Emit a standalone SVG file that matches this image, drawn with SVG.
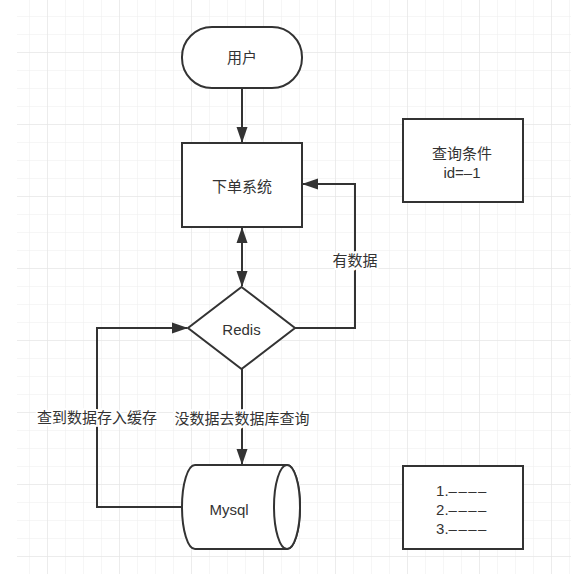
<svg xmlns="http://www.w3.org/2000/svg" width="571" height="574" viewBox="0 0 571 574">
<defs>
<pattern id="minor" x="29" y="16" width="18" height="18" patternUnits="userSpaceOnUse">
<path d="M0,0 H18 M0,0 V18" fill="none" stroke="#ededed" stroke-width="1"/>
</pattern>
<pattern id="major" x="47" y="52" width="72" height="72" patternUnits="userSpaceOnUse">
<path d="M0,0 H72 M0,0 V72" fill="none" stroke="#e2e2e2" stroke-width="1"/>
</pattern>
<marker id="arr" viewBox="0 0 16 12" refX="15" refY="6" markerWidth="16" markerHeight="12" orient="auto-start-reverse" markerUnits="userSpaceOnUse">
<path d="M0,0.5 L16,6 L0,11.5 Z" fill="#333"/>
</marker>
</defs>
<style>
.shape{fill:#fff;stroke:#333;stroke-width:2}
.edge{fill:none;stroke:#333;stroke-width:2}
.t{font-family:"Liberation Sans","Noto Sans CJK SC",sans-serif;font-size:15px;fill:#333;text-anchor:middle;dominant-baseline:central}
.lbl{stroke:#fff;stroke-width:4;paint-order:stroke}
.d{letter-spacing:1.5px}
</style>
<rect width="571" height="574" fill="#fff"/>
<rect x="17" y="0" width="554" height="574" fill="url(#minor)"/>
<rect x="17" y="0" width="554" height="574" fill="url(#major)"/>

<g id="connectors">
<path class="edge" d="M242,88 V142" marker-end="url(#arr)"/>
<path class="edge" d="M242,228 V286" marker-start="url(#arr)" marker-end="url(#arr)"/>
<path class="edge" d="M295,328 H355 V184 H303" marker-end="url(#arr)"/>
<path class="edge" d="M242,369 V464" marker-end="url(#arr)"/>
<path class="edge" d="M182,507 H97 V328 H187" marker-end="url(#arr)"/>
<text class="t lbl" x="355" y="260">有数据</text>
<text class="t lbl" x="242" y="418">没数据去数据库查询</text>
<text class="t lbl" x="97" y="417">查到数据存入缓存</text>
</g>

<g id="user">
<rect class="shape" x="182" y="27" width="120" height="61" rx="30" ry="30"/>
<text class="t" x="242" y="57">用户</text>
</g>
<g id="order-system">
<rect class="shape" x="182" y="143" width="120" height="84"/>
<text class="t" x="242" y="186">下单系统</text>
</g>
<g id="redis">
<path class="shape" d="M241.5,287 L295,328 L241.5,369 L188,328 Z"/>
<text class="t" x="241.5" y="329">Redis</text>
</g>
<g id="mysql">
<path class="shape" d="M195,465 H287 A13,42 0 0 1 287,549 H195 A13,42 0 0 1 195,465 Z"/>
<ellipse class="shape" cx="287" cy="507" rx="13" ry="42"/>
<text class="t" x="229" y="509">Mysql</text>
</g>
<g id="query-cond">
<rect class="shape" x="403" y="119" width="120" height="83"/>
<text class="t" x="462" y="153">查询条件</text>
<text class="t" x="462" y="172">id=–1</text>
</g>
<g id="list">
<rect class="shape" x="403" y="466" width="120" height="83"/>
<text class="t" x="462" y="490">1.<tspan class="d">––––</tspan></text>
<text class="t" x="462" y="509">2.<tspan class="d">––––</tspan></text>
<text class="t" x="462" y="528">3.<tspan class="d">––––</tspan></text>
</g>
</svg>
